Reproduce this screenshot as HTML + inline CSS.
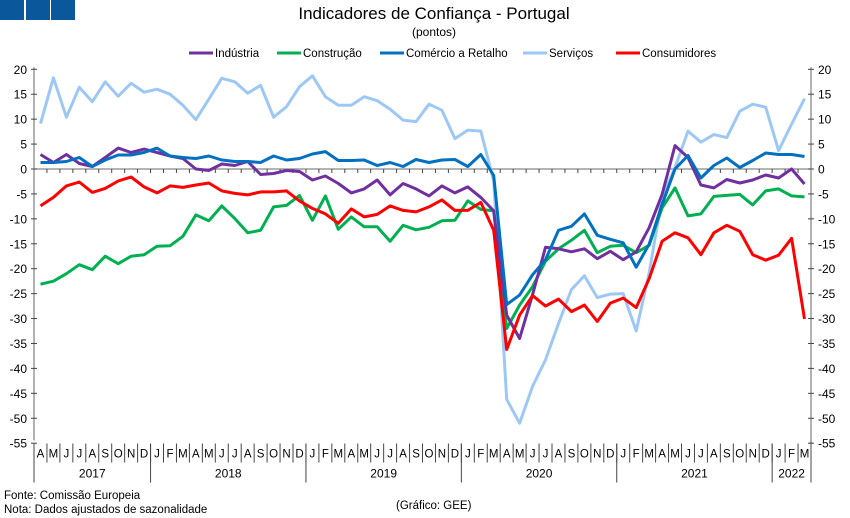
<!DOCTYPE html>
<html><head><meta charset="utf-8"><style>
body{margin:0;background:#fff;font-family:"Liberation Sans",sans-serif;}
svg{display:block}
text{font-family:"Liberation Sans",sans-serif;fill:#000}
</style></head><body>
<svg id="c" width="850" height="518">
<rect x="0" y="0" width="24" height="20" fill="#0a579b"/>
<rect x="26" y="0" width="24" height="20" fill="#0a579b"/>
<rect x="51" y="0" width="24" height="20" fill="#0a579b"/>
<text x="434" y="19" font-size="17" text-anchor="middle">Indicadores de Confiança - Portugal</text>
<text x="434" y="36" font-size="12" text-anchor="middle">(pontos)</text>
<text x="4" y="499" font-size="11.5">Fonte: Comissão Europeia</text>
<text x="4" y="513" font-size="11.5">Nota: Dados ajustados de sazonalidade</text>
<text x="396" y="509" font-size="11.5">(Gráfico: GEE)</text>
<g id="g"></g>
</svg>
<script>
const monthLabels=["A","M","J","J","A","S","O","N","D","J","F","M","A","M","J","J","A","S","O","N","D","J","F","M","A","M","J","J","A","S","O","N","D","J","F","M","A","M","J","J","A","S","O","N","D","J","F","M","A","M","J","J","A","S","O","N","D","J","F","M"];
const years=["2017","2018","2019","2020","2021","2022"];
const yearStarts=[0,9,21,33,45,57];
const yTicks=[20,15,10,5,0,-5,-10,-15,-20,-25,-30,-35,-40,-45,-50,-55];
const seriesNames=["Indústria","Construção","Comércio a Retalho","Serviços","Consumidores"];
const industria=[2.9,1.3,2.9,1.1,0.5,2.3,4.2,3.3,4,3.3,2.6,2.1,0,-0.3,1,0.7,1.5,-1.1,-0.9,-0.3,-0.5,-2.2,-1.4,-2.9,-4.8,-4,-2.2,-5.2,-2.9,-4,-5.4,-3.4,-4.8,-3.6,-5.7,-8.4,-29.3,-34,-25.2,-15.7,-16,-16.6,-16,-18,-16.5,-18.2,-16.6,-11.8,-5.1,4.7,2.3,-3.2,-3.8,-2.1,-2.8,-2.2,-1.2,-1.8,0,-3];
const construcao=[-23.1,-22.5,-21,-19.2,-20.2,-17.5,-19,-17.5,-17.2,-15.5,-15.4,-13.5,-9.2,-10.4,-7.4,-9.9,-12.8,-12.3,-7.6,-7.3,-5.3,-10.3,-5.4,-12.1,-9.6,-11.6,-11.6,-14.5,-11.3,-12.2,-11.7,-10.4,-10.3,-6.4,-8.1,-8.4,-32,-27.3,-23.6,-18.5,-16,-14.3,-12.3,-16.8,-15.5,-15.3,-16.8,-15.3,-7.8,-3.8,-9.4,-9,-5.5,-5.3,-5.1,-7.2,-4.4,-4,-5.4,-5.6];
const comercio=[1.3,1.3,1.5,2.3,0.5,1.8,2.8,2.8,3.3,4.2,2.6,2.3,2.1,2.6,1.8,1.5,1.5,1.3,2.6,1.8,2.1,3,3.5,1.7,1.7,1.8,0.7,1.3,0.5,1.9,1.3,1.8,1.9,0.5,2.9,-1.3,-27.2,-25.3,-21.2,-18.2,-12.3,-11.5,-9,-13.3,-14.1,-14.8,-19.7,-15.1,-7.1,0,2.7,-1.8,0.7,2.2,0.3,1.7,3.2,2.9,2.9,2.5];
const servicos=[9.1,18.3,10.4,16.4,13.5,17.5,14.6,17.2,15.4,16,15,12.8,9.9,14,18.2,17.5,15.2,16.8,10.4,12.5,16.5,18.7,14.5,12.8,12.8,14.5,13.7,12,9.8,9.5,13,11.8,6.1,7.8,7.6,-2.4,-46.2,-51,-43.6,-38.3,-31,-24.2,-21.4,-25.8,-25.1,-25,-32.5,-20.9,-5.7,0.3,7.6,5.4,6.9,6.3,11.6,13,12.4,3.7,9,14.1];
const consumidores=[-7.4,-5.7,-3.4,-2.6,-4.7,-3.9,-2.4,-1.6,-3.6,-4.8,-3.4,-3.7,-3.2,-2.8,-4.4,-4.9,-5.2,-4.6,-4.6,-4.4,-6.4,-7.9,-9,-10.9,-8,-9.6,-9.1,-7.4,-8.3,-8.6,-7.6,-6.2,-8.3,-8.3,-6.7,-12.3,-36.2,-29.3,-25.4,-27.5,-26.1,-28.6,-27.3,-30.6,-26.9,-25.9,-27.8,-22,-14.5,-12.8,-13.8,-17.2,-12.8,-11.3,-12.5,-17.2,-18.3,-17.3,-13.9,-30.1];
const colors=["#7030a0","#00b050","#0070c0","#9dc8f5","#ff0000"];
const allSeries=[industria,construcao,comercio,servicos,consumidores];
const drawOrder=[3,1,0,2,4];

const L=34,R=811,T=69.3,Z=169,B=440.5,N=monthLabels.length;
const step=(R-L)/N;
const xs=i=>L+step*(i+0.5);
const ys=v=>Z-v*(Z-T)/20;
const NS="http://www.w3.org/2000/svg";
const g=document.getElementById('g');
function mk(tag,attrs){const e=document.createElementNS(NS,tag);for(const k in attrs)e.setAttribute(k,attrs[k]);g.appendChild(e);return e;}

// axes
let e=mk('line',{x1:L,y1:T-2,x2:L,y2:B,stroke:'#888','stroke-width':1.3});


e=mk('line',{x1:R,y1:T-2,x2:R,y2:B,stroke:'#888','stroke-width':1.3});


e=mk('line',{x1:L,y1:Z,x2:R,y2:Z,stroke:'#888','stroke-width':1.3});


yTicks.forEach(v=>{
  const y=ys(v);
  let t=mk('line',{x1:L-3,y1:y,x2:L+3,y2:y,stroke:'#444'});
  
  
  t=mk('line',{x1:R-3,y1:y,x2:R+3,y2:y,stroke:'#444'});
  
  
  let l=mk('text',{x:L-7,y:y+4.5,'font-size':12,'text-anchor':'end'});l.textContent=v;
  
  
  l=mk('text',{x:R+7,y:y+4.5,'font-size':12});l.textContent=v;
  
  
});
for(let i=1;i<N;i++){
  const x=L+step*i;
  let t=mk('line',{x1:x,y1:Z,x2:x,y2:Z+4,stroke:'#444'});
  
  
  t=mk('line',{x1:x,y1:B+3,x2:x,y2:B+22,stroke:'#444'});
  
  
}
monthLabels.forEach((m,i)=>{
  const t=mk('text',{x:xs(i),y:B+17,'font-size':11.5,'text-anchor':'middle'});t.textContent=m;
  
  
});
yearStarts.forEach((s,k)=>{
  const x=L+step*s;
  let t=mk('line',{x1:x,y1:B+3,x2:x,y2:B+42,stroke:'#444'});
  
  
  const end=k+1<yearStarts.length?yearStarts[k+1]:N;
  const l=mk('text',{x:L+step*(s+end)/2,y:B+37,'font-size':12,'text-anchor':'middle'});l.textContent=years[k];
  
  
});
e=mk('line',{x1:R,y1:B,x2:R,y2:B+42,stroke:'#444'});



drawOrder.forEach(k=>{
  const d=allSeries[k].map((v,i)=>xs(i).toFixed(1)+','+ys(v).toFixed(1)).join(' ');
  const p=mk('polyline',{points:d,fill:'none',stroke:colors[k],'stroke-width':3,'stroke-linejoin':'round'});
  
  
});

const legX=[189,277,380,523,616];
seriesNames.forEach((n,k)=>{
  const l=mk('line',{x1:legX[k],y1:53,x2:legX[k]+24,y2:53,stroke:colors[k],'stroke-width':3});
  
  
  const t=mk('text',{x:legX[k]+26,y:57,'font-size':11.5});t.textContent=n;
  
  
});
</script>
</body></html>
